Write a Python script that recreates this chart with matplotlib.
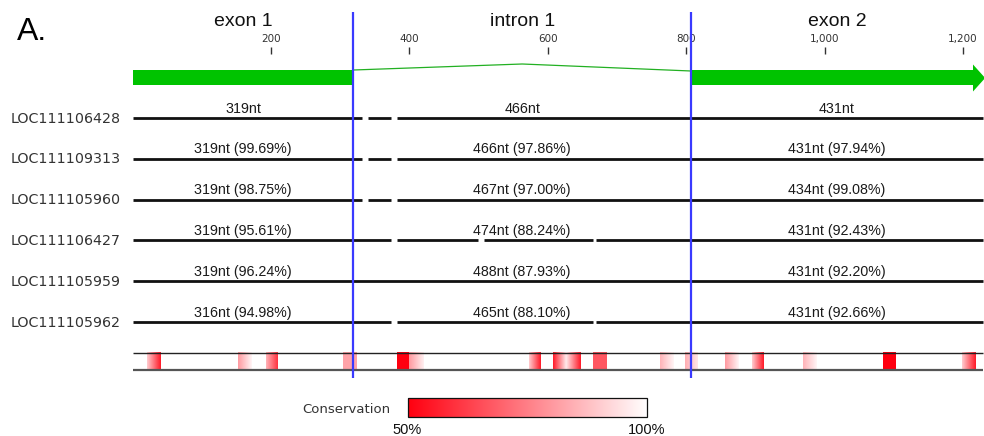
import matplotlib
matplotlib.use("Agg")
import matplotlib.pyplot as plt  # noqa: E402
import numpy as np  # noqa: E402
from matplotlib.colors import LinearSegmentedColormap, Normalize  # noqa: E402
from matplotlib.patches import Polygon, Rectangle  # noqa: E402

# ---- data (alignment coordinates, nt) ----
ALN_LEN = 1229
REGION_NAMES = ["exon 1", "intron 1", "exon 2"]
REGION_BOUNDS = [0, 319, 807, ALN_LEN]
AXIS_TICKS = [200, 400, 600, 800, 1000, 1200]

GENES = ["LOC111106428", "LOC111109313", "LOC111105960",
         "LOC111106427", "LOC111105959", "LOC111105962"]
EXON1_LABELS = ["319nt", "319nt (99.69%)", "319nt (98.75%)",
                "319nt (95.61%)", "319nt (96.24%)", "316nt (94.98%)"]
INTRON_LABELS = ["466nt", "466nt (97.86%)", "467nt (97.00%)",
                 "474nt (88.24%)", "488nt (87.93%)", "465nt (88.10%)"]
EXON2_LABELS = ["431nt", "431nt (97.94%)", "434nt (99.08%)",
                "431nt (92.43%)", "431nt (92.20%)", "431nt (92.66%)"]
# alignment gaps per gene (start, end)
GAPS = [
    [(331, 340), (373, 382)],
    [(331, 340), (373, 382)],
    [(331, 340), (373, 382)],
    [(373, 382), (499, 508), (665, 670)],
    [],
    [(373, 382), (665, 670)],
]

# conservation track: windows below 100% (start, end, % at start, % at end)
CONS_START = [21, 152, 193, 304, 382, 399, 573, 607, 626, 665,
              762, 798, 856, 895, 969, 1084, 1198]
CONS_END = [40, 172, 210, 324, 399, 420, 590, 626, 647, 685,
            781, 816, 875, 911, 989, 1102, 1217]
CONS_FROM = [90, 80, 85, 82, 50, 80, 90, 55, 96, 67,
             85, 84, 80, 90, 85, 50, 90]
CONS_TO = [55, 98, 60, 82, 50, 97, 55, 98, 55, 67,
           98, 95, 98, 55, 98, 50, 55]

# ---- layout (pixels of a 984x436 canvas) ----
W, H = 984, 436
PX_PER_NT = 0.692
X0_PX = 132.6
ROW_Y0, ROW_DY = 118, 40.8
GENE_Y = 78
STRIP_TOP, STRIP_BOT = 352.5, 370

SPLICE_BLUE = "#3a3aff"
GREEN = "#00c300"
cmap = LinearSegmentedColormap.from_list("cons", ["#ff0010", "#ffffff"])
norm = Normalize(50, 100)


def px(x):
    """pixel x -> alignment coordinate"""
    return (x - X0_PX) / PX_PER_NT


fig = plt.figure(figsize=(W / 100, H / 100), dpi=100)
ax = fig.add_axes([0, 0, 1, 1])
ax.set_xlim(px(0), px(W))
ax.set_ylim(H, 0)
ax.axis("off")

sans = "Liberation Sans"
dv = "DejaVu Sans"

ax.text(px(17), 32, "A.", fontsize=23, family=sans, ha="left", va="center")

# region titles
for name, a, b in zip(REGION_NAMES, REGION_BOUNDS[:-1], REGION_BOUNDS[1:]):
    ax.text((a + b) / 2, 22, name, fontsize=14, family=sans,
            ha="center", va="center", color="#111111")

# position ruler
ax.vlines(AXIS_TICKS, 47, 54, color="#333333", lw=1)
for t in AXIS_TICKS:
    ax.text(t, 39, f"{t:,}", fontsize=7.5, family=dv, ha="center",
            va="center", color="#333333")

# gene model: exon boxes + intron connector
e1a, e1b = REGION_BOUNDS[0], REGION_BOUNDS[1]
e2a, e2b = REGION_BOUNDS[2], REGION_BOUNDS[3]
ax.add_patch(Rectangle((e1a, GENE_Y - 7.5), e1b - e1a, 15, color=GREEN, lw=0))
head = px(973)
ax.add_patch(Rectangle((e2a, GENE_Y - 7.5), head - e2a, 15, color=GREEN, lw=0))
ax.add_patch(Polygon([(head, GENE_Y - 13.5), (e2b + 3, GENE_Y),
                      (head, GENE_Y + 13.5)], closed=True, color=GREEN,
                     lw=0, clip_on=False))
mid = (e1b + e2a) / 2
ax.plot([e1b, mid, e2a], [GENE_Y - 8, 64, GENE_Y - 7], color="#22b022", lw=0.9)

# gene rows
for i, gene in enumerate(GENES):
    y = ROW_Y0 + i * ROW_DY
    edges = [0]
    for g0, g1 in GAPS[i]:
        edges += [g0, g1]
    edges.append(ALN_LEN)
    starts, ends = edges[0::2], edges[1::2]
    ax.hlines([y] * len(starts), starts, ends, color="#111111", lw=2.0)
    ax.text(px(121), y + 0.5, gene, fontsize=10.3, family=dv, ha="right",
            va="center", color="#333333")
    labels = [EXON1_LABELS[i], INTRON_LABELS[i], EXON2_LABELS[i]]
    for lab, a, b in zip(labels, REGION_BOUNDS[:-1], REGION_BOUNDS[1:]):
        ax.text((a + b) / 2, y - 2.5, lab, fontsize=10.3, family=sans,
                ha="center", va="bottom", color="#1a1a1a")

# conservation strip
for s, e, v0, v1 in zip(CONS_START, CONS_END, CONS_FROM, CONS_TO):
    grad = np.linspace(v0, v1, 64).reshape(1, -1)
    ax.imshow(grad, cmap=cmap, norm=norm, aspect="auto",
              extent=(s, e, STRIP_BOT, STRIP_TOP), interpolation="bilinear")
ax.hlines(STRIP_TOP, 0, ALN_LEN, color="#222222", lw=1.0)
ax.hlines(STRIP_BOT, 0, ALN_LEN, color="#555555", lw=1.6)

# splice boundaries
ax.vlines(REGION_BOUNDS[1:3], 12, 378, color=SPLICE_BLUE, lw=1.6, zorder=5)

# colour key
cb_x0, cb_x1, cb_y0, cb_y1 = px(407.5), px(646.5), 416.5, 397.5
ax.imshow(np.linspace(50, 100, 256).reshape(1, -1), cmap=cmap, norm=norm,
          aspect="auto", extent=(cb_x0, cb_x1, cb_y0, cb_y1))
ax.add_patch(Rectangle((cb_x0, cb_y1), cb_x1 - cb_x0, cb_y0 - cb_y1,
                       fill=False, ec="#111111", lw=0.9))
ax.text(px(390), 409.5, "Conservation", fontsize=9.5, family=dv,
        ha="right", va="center", color="#333333")
ax.text(cb_x0, 429.5, "50%", fontsize=10.5, family=sans, ha="center",
        va="center", color="#111111")
ax.text(cb_x1, 429.5, "100%", fontsize=10.5, family=sans, ha="center",
        va="center", color="#111111")

ax.set_xlim(px(0), px(W))
ax.set_ylim(H, 0)
fig.savefig("out.png", dpi=100)
